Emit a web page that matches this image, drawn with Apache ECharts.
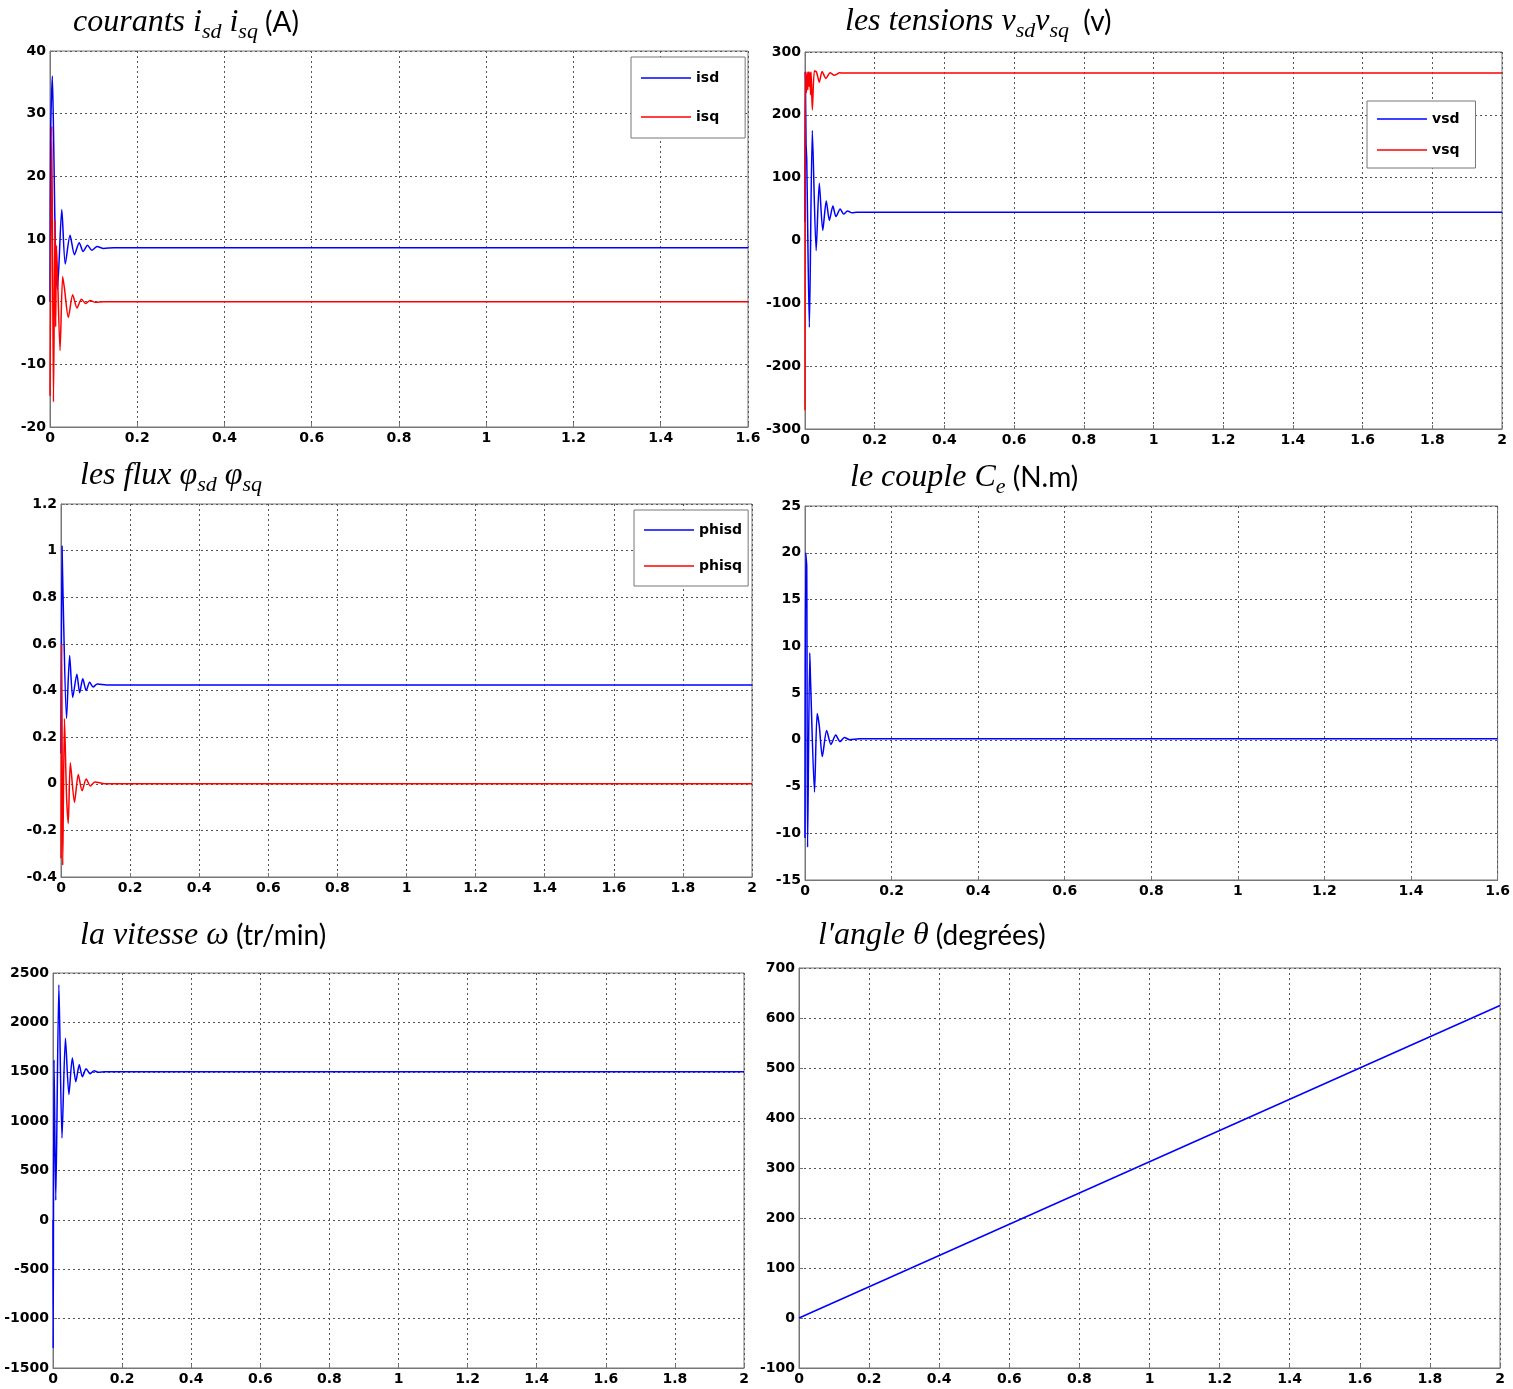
<!DOCTYPE html>
<html>
<head>
<meta charset="utf-8">
<title>Commande vectorielle – grandeurs de la machine</title>
<script src="https://cdn.jsdelivr.net/npm/echarts@6/dist/echarts.min.js"></script>
<style>
  html, body { margin: 0; padding: 0; background: #fff; }
  #chart { width: 1513px; height: 1389px; }
</style>
</head>
<body>
<div id="chart"></div>
<script>
// Simulated responses, [time (s), value] pairs
const isd = [[0,0],[0.0015,27],[0.0054,36],[0.009,23],[0.013,6],[0.017,2],[0.027,14.7],[0.035,6],[0.046,10.6],[0.056,7.5],[0.067,9.4],[0.076,8.0],[0.086,9.0],[0.096,8.2],[0.108,8.8],[0.123,8.5],[0.146,8.6],[1.6,8.6]];
const isq = [[0,-15],[0.004,28],[0.008,-16],[0.0115,13],[0.013,-4],[0.015,9],[0.023,-7.8],[0.029,4],[0.033,2.2],[0.042,-2.5],[0.052,1.1],[0.062,-1],[0.072,0.4],[0.082,-0.3],[0.092,0.2],[0.104,-0.1],[0.123,0],[1.6,0]];

const vsd = [[0,30],[0.001,268],[0.003,155],[0.005,128],[0.0125,-138],[0.021,175],[0.032,-16],[0.041,91],[0.051,16],[0.061,63],[0.070,32],[0.080,55],[0.089,38],[0.101,50],[0.111,42],[0.122,47],[0.135,44],[0.149,45],[2,45]];
const vsq = [[0,-270],[0.001,268],[0.004,235],[0.006,268],[0.008,240],[0.010,268],[0.012,245],[0.014,268],[0.016,232],[0.0175,268],[0.021,208],[0.027,270],[0.033,268],[0.041,252],[0.049,269],[0.060,258],[0.072,267],[0.084,263],[0.1,267],[0.11,266.5],[2,266.5]];

const phisd = [[0,0.13],[0.003,1.02],[0.006,0.8],[0.016,0.28],[0.025,0.55],[0.034,0.37],[0.046,0.47],[0.054,0.39],[0.063,0.45],[0.073,0.4],[0.083,0.435],[0.093,0.415],[0.105,0.428],[0.132,0.424],[2,0.424]];
const phisq = [[0,-0.32],[0.002,0.6],[0.005,-0.35],[0.01,0.28],[0.016,-0.05],[0.021,-0.17],[0.027,0.09],[0.039,-0.08],[0.05,0.04],[0.061,-0.03],[0.073,0.02],[0.085,-0.01],[0.098,0.008],[0.127,0],[2,0]];

const couple = [[0,-10.5],[0.0016,20],[0.004,18.5],[0.006,-11.5],[0.011,9.3],[0.013,6],[0.022,-5.6],[0.028,2.8],[0.033,1.5],[0.040,-1.8],[0.050,1.0],[0.060,-0.5],[0.071,0.5],[0.081,-0.2],[0.091,0.25],[0.103,0.0],[0.126,0.1],[1.6,0.1]];

const vitesse = [[0,0],[0.0005,-1300],[0.003,1620],[0.008,200],[0.017,2380],[0.026,830],[0.036,1840],[0.046,1270],[0.056,1640],[0.066,1400],[0.076,1570],[0.085,1450],[0.096,1530],[0.107,1480],[0.119,1510],[0.131,1495],[0.150,1500],[2,1500]];

const angle = [[0,0],[2,625]];

// Axis ranges per panel: [xMin, xMax, xStep, yMin, yMax, yStep]
const ranges = [
  [0, 1.6, 0.2, -20, 40, 10],
  [0, 2, 0.2, -300, 300, 100],
  [0, 2, 0.2, -0.4, 1.2, 0.2],
  [0, 1.6, 0.2, -15, 25, 5],
  [0, 2, 0.2, -1500, 2500, 500],
  [0, 2, 0.2, -100, 700, 100]
];

const BLUE = '#0000ff';
const RED = '#ff0000';

const grids = [
  { left: 50,  top: 51,  width: 698, height: 376 },
  { left: 805, top: 52,  width: 697, height: 377 },
  { left: 61,  top: 504, width: 691, height: 373 },
  { left: 805, top: 506, width: 693, height: 374 },
  { left: 53,  top: 973, width: 691, height: 395 },
  { left: 799, top: 968, width: 701, height: 400 }
].map(g => Object.assign({ show: true, borderColor: '#777', borderWidth: 1, backgroundColor: '#fff' }, g));

const plain = v => String(parseFloat(Number(v).toFixed(6)));
const labelFont = { fontFamily: 'DejaVu Sans', fontWeight: 'bold', fontSize: 14, color: '#000', formatter: plain };
const gridLine = { show: true, lineStyle: { color: '#555', width: 1, type: [2, 3] } };
const axLine = { show: true, onZero: false, lineStyle: { color: '#777', width: 1 } };
const tick = { show: true, inside: true, length: 4, lineStyle: { color: '#777' } };

const xAxes = ranges.map((r, i) => ({
  type: 'value', gridIndex: i, min: r[0], max: r[1], interval: r[2],
  axisLine: axLine, axisTick: tick, splitLine: gridLine,
  axisLabel: Object.assign({ margin: 4, showMaxLabel: true, showMinLabel: true }, labelFont)
}));
const yAxes = ranges.map((r, i) => ({
  type: 'value', gridIndex: i, min: r[3], max: r[4], interval: r[5],
  axisLine: axLine, axisTick: tick, splitLine: gridLine,
  axisLabel: Object.assign({ margin: 4, showMaxLabel: true, showMinLabel: true }, labelFont)
}));

function curve(name, data, idx, color) {
  return {
    type: 'line', name: name, data: data,
    xAxisIndex: idx, yAxisIndex: idx,
    showSymbol: false, symbol: 'none', smooth: 0.25,
    lineStyle: { color: color, width: 1.5 },
    itemStyle: { color: color },
    clip: true
  };
}

const series = [
  curve('isd', isd, 0, BLUE),
  curve('isq', isq, 0, RED),
  curve('vsd', vsd, 1, BLUE),
  curve('vsq', vsq, 1, RED),
  curve('phisd', phisd, 2, BLUE),
  curve('phisq', phisq, 2, RED),
  curve('Ce', couple, 3, BLUE),
  curve('w', vitesse, 4, BLUE),
  curve('theta', angle, 5, BLUE)
];

const lineIcon = 'path://M0 0H100V3H0Z';
function legendBox(names, left, top, gap, padR, padV) {
  return {
    data: names, orient: 'vertical', left: left, top: top,
    icon: lineIcon, itemWidth: 50, itemHeight: 14, itemGap: gap,
    padding: [padV, padR, padV, 10],
    backgroundColor: '#fff', borderColor: '#777', borderWidth: 1, borderRadius: 0,
    selectedMode: false,
    textStyle: { fontFamily: 'DejaVu Sans', fontWeight: 'bold', fontSize: 14, color: '#000', padding: [0, 0, 0, 0] }
  };
}

// Title text styles: italic math parts, subscripts, upright units
const rich = {
  it:  { fontFamily: 'Liberation Serif', fontStyle: 'italic', fontWeight: 'normal', fontSize: 32, color: '#000', lineHeight: 40 },
  sub: { fontFamily: 'Liberation Serif', fontStyle: 'italic', fontWeight: 'normal', fontSize: 22, color: '#000', lineHeight: 20, verticalAlign: 'bottom' },
  up:  { fontFamily: 'Lato', fontWeight: 'normal', fontSize: 28, color: '#000', lineHeight: 40 }
};
function heading(text, left, top) {
  return { text: text, left: left, top: top, padding: 0, textStyle: { fontWeight: 'normal', rich: rich } };
}

const titles = [
  heading('{it|courants i}{sub|sd}{it| i}{sub|sq}{up| (A)}', 73, 3),
  heading('{it|les tensions v}{sub|sd}{it|v}{sub|sq}{up|  (v)}', 845, 2),
  heading('{it|les flux φ}{sub|sd}{it| φ}{sub|sq}', 80, 456),
  heading('{it|le couple C}{sub|e}{up| (N.m)}', 850, 458),
  heading('{it|la vitesse ω}{up| (tr/min)}', 80, 916),
  heading('{it|l′angle θ}{up| (degrées)}', 818, 916)
];

const chart = echarts.init(document.getElementById('chart'), null, { renderer: 'canvas' });
chart.setOption({
  animation: false,
  backgroundColor: '#fff',
  title: titles,
  grid: grids,
  xAxis: xAxes,
  yAxis: yAxes,
  legend: [
    legendBox(['isd', 'isq'], 631, 57, 25, 26, 14),
    legendBox(['vsd', 'vsq'], 1367, 101, 17, 16, 11),
    legendBox(['phisd', 'phisq'], 634, 510, 22, 6, 13)
  ],
  series: series
});
</script>
</body>
</html>
